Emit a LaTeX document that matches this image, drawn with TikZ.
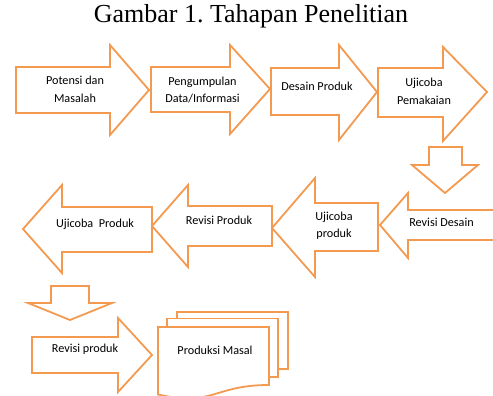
\documentclass[tikz,border=0pt]{standalone}
\usepackage{fontspec}
\setmainfont{Liberation Serif}
\newfontfamily\calibri{Carlito}
\definecolor{oranye}{HTML}{F39A50}
\tikzset{
  panah/.style={draw=oranye, line width=1.8pt, fill=white, line join=miter},
  teks/.style={font=\calibri\fontsize{12.2}{17.5}\selectfont, align=center, anchor=base, inner sep=0pt}
}
\frenchspacing

\begin{document}
\begin{tikzpicture}[x=1pt, y=-1pt]
\useasboundingbox (0,0) rectangle (493,396);
\node (judul) [font=\fontsize{26}{30}\selectfont, anchor=base, inner sep=0pt] at (251,23) {Gambar 1. Tahapan Penelitian};
% baris atas
\draw [panah] (16,67) -- (110,67) -- (110,45) -- (149,90) -- (110,135) -- (110,113) -- (16,113) -- cycle;
\draw [panah] (151,67) -- (230,67) -- (230,45) -- (270,89) -- (230,134) -- (230,112) -- (151,112) -- cycle;
\draw [panah] (271,68) -- (339,68) -- (339,45) -- (377,92) -- (339,140) -- (339,115) -- (271,115) -- cycle;
\draw [panah] (378,68) -- (443,68) -- (443,47) -- (487,92) -- (443,141) -- (443,117) -- (378,117) -- cycle;
\node (potensi) [teks] at (75,102.5) {Potensi dan\\Masalah};
\node (pengumpulan) [teks] at (202.5,102.7) {Pengumpulan\\Data/Informasi};
\node (desain) [teks] at (317,90.7) {Desain Produk};
\node (pemakaian) [teks] at (424,104.3) {Ujicoba\\Pemakaian};
% turun
\draw [panah] (429,147) -- (462,147) -- (462,165) -- (478,165) -- (445,193) -- (412,165) -- (429,165) -- cycle;
% baris tengah
\draw [panah] (500,210) -- (408,210) -- (408,193) -- (380,225) -- (408,258) -- (408,240) -- (500,240) -- cycle;
\draw [panah] (378,203) -- (315,203) -- (315,178) -- (272,228) -- (315,277) -- (315,251) -- (378,251) -- cycle;
\draw [panah] (272,206) -- (188,206) -- (188,185) -- (152,226) -- (188,267) -- (188,246) -- (272,246) -- cycle;
\draw [panah] (152,207) -- (62,207) -- (62,185) -- (23,229) -- (62,273) -- (62,252) -- (152,252) -- cycle;
\node (revdesain) [teks] at (441.5,226) {Revisi Desain};
\node (ujiproduk) [teks] at (334,237.7) {Ujicoba\\produk};
\node (revproduk) [teks] at (219,224.3) {Revisi Produk};
\node (ujiproduk2) [teks] at (95,227.3) {Ujicoba\ \ Produk};
% baris bawah
\draw [panah] (51,286) -- (89,286) -- (89,303) -- (112,303) -- (70,320) -- (28,303) -- (51,303) -- cycle;
\draw [panah] (32,337) -- (118,337) -- (118,318) -- (152,355) -- (118,392) -- (118,373) -- (32,373) -- cycle;
\node (revproduk2) [teks] at (85,352.7) {Revisi produk};
\draw [panah] (177,312) rectangle (288,369);
\draw [panah] (167,318.5) rectangle (278,377);
\draw [panah] (158,327) -- (269,327) -- (269,385) .. controls (213.5,385) and (213.5,407) .. (158,394.5) -- cycle;
\node (masal) [teks] at (215,354) {Produksi Masal};
\end{tikzpicture}
\end{document}
